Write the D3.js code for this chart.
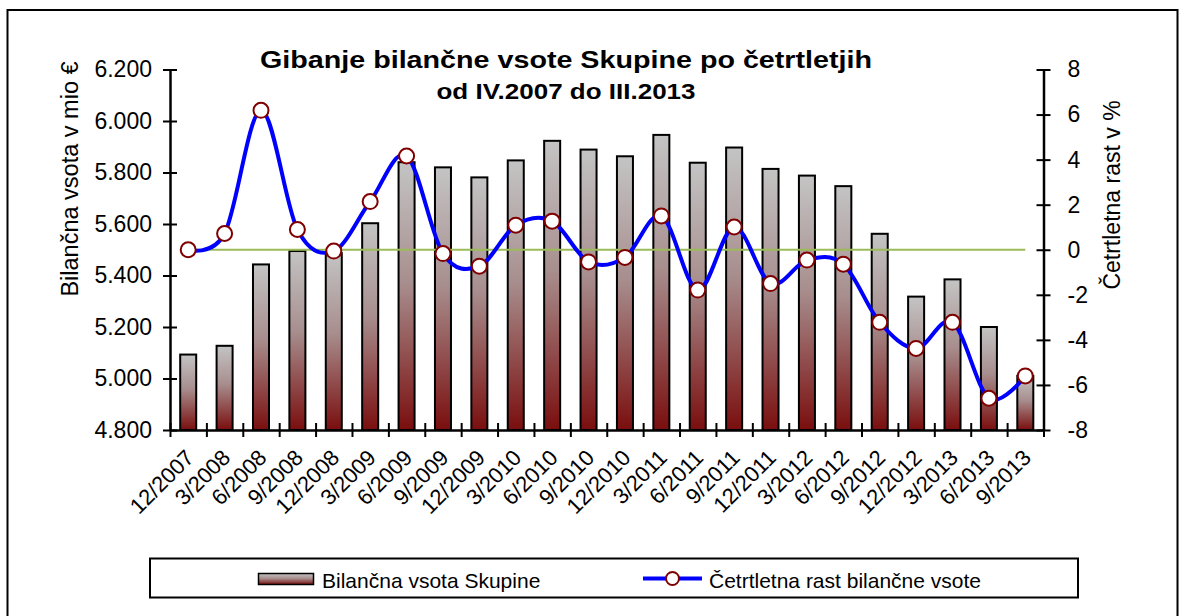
<!DOCTYPE html>
<html>
<head>
<meta charset="utf-8">
<script src="https://cdn.jsdelivr.net/npm/d3@7"></script>
<style>
  html, body { margin: 0; padding: 0; background: #fff; }
  svg { display: block; font-family: "Liberation Sans", Arial, sans-serif; }
</style>
</head>
<body>
<svg id="chart" width="1184" height="616"></svg>
<script>
// ---- data ----
const categories = ["12/2007","3/2008","6/2008","9/2008","12/2008","3/2009","6/2009","9/2009","12/2009","3/2010","6/2010","9/2010","12/2010","3/2011","6/2011","9/2011","12/2011","3/2012","6/2012","9/2012","12/2012","3/2013","6/2013","9/2013"];
const balanceSum = [5093, 5127, 5443, 5495, 5487, 5603, 5840, 5820, 5781, 5847, 5923, 5889, 5863, 5946, 5838, 5897, 5814, 5788, 5747, 5562, 5318, 5385, 5200, 5010];
const quarterlyGrowth = [0.00, 0.72, 6.19, 0.90, -0.06, 2.14, 4.16, -0.17, -0.73, 1.09, 1.27, -0.54, -0.34, 1.50, -1.79, 1.01, -1.50, -0.46, -0.64, -3.22, -4.38, -3.22, -6.59, -5.60];
const leftTicks = [4800, 5000, 5200, 5400, 5600, 5800, 6000, 6200];
const rightTicks = [-8, -6, -4, -2, 0, 2, 4, 6, 8];
const titleLines = ["Gibanje bilančne vsote Skupine po četrtletjih", "od IV.2007 do III.2013"];
const leftAxisTitle = "Bilančna vsota v mio €";
const rightAxisTitle = "Četrtletna rast v %";
const seriesNames = ["Bilančna vsota Skupine", "Četrtletna rast bilančne vsote"];

// ---- layout ----
const svg = d3.select("#chart");
const plotL = 170, plotR = 1043.5, plotT = 69.5, plotB = 430;
const fontFam = '"Liberation Sans", Arial, sans-serif';
const sl = d3.formatLocale({decimal: ",", thousands: ".", grouping: [3], currency: ["", " €"], minus: "-"});
const fmtL = sl.format(",d");
const fmtR = sl.format("d");

const x = d3.scaleBand().domain(categories).range([plotL, plotR]).padding(0);
const xIdx = d3.scaleLinear().domain([0, categories.length]).range([plotL, plotR]);
const yL = d3.scaleLinear().domain([4800, 6200]).range([plotB, plotT]);
const yR = d3.scaleLinear().domain([-8, 8]).range([plotB, plotT]);

// outer frame
svg.append("rect").attr("x", 7.5).attr("y", 10).attr("width", 1170).attr("height", 620)
  .attr("fill", "#fff").attr("stroke", "#000").attr("stroke-width", 2);

// gradient
const defs = svg.append("defs");
const grad = defs.append("linearGradient").attr("id", "barGrad")
  .attr("x1", 0).attr("y1", 0).attr("x2", 0).attr("y2", 1);
grad.append("stop").attr("offset", "0%").attr("stop-color", "#C4C4C4");
grad.append("stop").attr("offset", "45%").attr("stop-color", "#A88E8E");
grad.append("stop").attr("offset", "100%").attr("stop-color", "#7A0E0E");

// bars
const bw = x.bandwidth();
svg.append("g").selectAll("rect").data(balanceSum).join("rect")
  .attr("x", (d, i) => x(categories[i]) + bw * 0.28)
  .attr("width", bw * 0.44)
  .attr("y", d => yL(d))
  .attr("height", d => plotB - yL(d))
  .attr("fill", "url(#barGrad)")
  .attr("stroke", "#000").attr("stroke-width", 2);

// zero line (right axis)
svg.append("line")
  .attr("x1", x(categories[0]) + bw / 2).attr("x2", x(categories[categories.length - 1]) + bw / 2)
  .attr("y1", yR(0)).attr("y2", yR(0))
  .attr("stroke", "#9BBB59").attr("stroke-width", 2);

// axes
function styleAxis(g) {
  g.select(".domain").attr("stroke", "#000").attr("stroke-width", 2.5);
  g.selectAll(".tick line").attr("stroke", "#000").attr("stroke-width", 2);
}
const gL = svg.append("g").attr("transform", `translate(${plotL},0)`)
  .call(d3.axisLeft(yL).tickValues(leftTicks).tickFormat(fmtL).tickSizeInner(7).tickSizeOuter(0).tickPadding(11));
styleAxis(gL);
gL.selectAll(".tick line").attr("x1", 7);
gL.selectAll(".tick text").attr("font-size", 23).attr("font-family", fontFam).attr("fill", "#000");

const gR = svg.append("g").attr("transform", `translate(${plotR},0)`)
  .call(d3.axisRight(yR).tickValues(rightTicks).tickFormat(fmtR).tickSizeInner(7).tickSizeOuter(0).tickPadding(17));
styleAxis(gR);
gR.selectAll(".tick line").attr("x1", -7);
gR.selectAll(".tick text").attr("font-size", 23).attr("font-family", fontFam).attr("fill", "#000");

const gX = svg.append("g").attr("transform", `translate(0,${plotB})`)
  .call(d3.axisBottom(xIdx).tickValues(d3.range(0, categories.length + 1)).tickFormat("").tickSizeInner(7).tickSizeOuter(0));
styleAxis(gX);
gX.selectAll(".tick line").attr("y1", -7);

const gXL = svg.append("g").attr("transform", `translate(0,${plotB})`)
  .call(d3.axisBottom(x).tickSize(0));
gXL.select(".domain").remove();
gXL.selectAll(".tick text")
  .attr("font-size", 22).attr("font-family", fontFam).attr("fill", "#000")
  .attr("text-anchor", "end").attr("x", 0).attr("y", 0).attr("dy", 0)
  .attr("transform", "translate(7,29) rotate(-45)");

// line
const line = d3.line()
  .x((d, i) => x(categories[i]) + bw / 2)
  .y(d => yR(d))
  .curve(d3.curveCardinal.tension(0));
svg.append("path").datum(quarterlyGrowth).attr("d", line)
  .attr("fill", "none").attr("stroke", "#0000FF").attr("stroke-width", 4);
svg.append("g").selectAll("circle").data(quarterlyGrowth).join("circle")
  .attr("cx", (d, i) => x(categories[i]) + bw / 2)
  .attr("cy", d => yR(d))
  .attr("r", 7.5)
  .attr("fill", "#fff").attr("stroke", "#800000").attr("stroke-width", 2);

// title
svg.append("text").text(titleLines[0])
  .attr("x", 566).attr("y", 68).attr("text-anchor", "middle")
  .attr("font-size", 24).attr("font-weight", "bold").attr("font-family", fontFam)
  .attr("textLength", 612).attr("lengthAdjust", "spacingAndGlyphs");
svg.append("text").text(titleLines[1])
  .attr("x", 566).attr("y", 99).attr("text-anchor", "middle")
  .attr("font-size", 22).attr("font-weight", "bold").attr("font-family", fontFam)
  .attr("textLength", 259).attr("lengthAdjust", "spacingAndGlyphs");

// axis titles
svg.append("text").text(leftAxisTitle)
  .attr("transform", "translate(78,179) rotate(-90)").attr("text-anchor", "middle")
  .attr("font-size", 23.5).attr("font-family", fontFam);
svg.append("text").text(rightAxisTitle)
  .attr("transform", "translate(1120,195) rotate(-90)").attr("text-anchor", "middle")
  .attr("font-size", 23).attr("font-family", fontFam);

// legend
svg.append("rect").attr("x", 150).attr("y", 558.5).attr("width", 928).attr("height", 39)
  .attr("fill", "#fff").attr("stroke", "#000").attr("stroke-width", 2);
const lg = svg.append("g");
lg.append("rect").attr("x", 258.5).attr("y", 573.5).attr("width", 55).attr("height", 11)
  .attr("fill", "url(#barGrad)").attr("stroke", "#000").attr("stroke-width", 1.5);
lg.append("text").text(seriesNames[0]).attr("x", 322).attr("y", 588)
  .attr("font-size", 21).attr("font-family", fontFam);
lg.append("line").attr("x1", 643).attr("x2", 702).attr("y1", 578.5).attr("y2", 578.5)
  .attr("stroke", "#0000FF").attr("stroke-width", 4);
lg.append("circle").attr("cx", 672.5).attr("cy", 578.5).attr("r", 6.5)
  .attr("fill", "#fff").attr("stroke", "#800000").attr("stroke-width", 2);
lg.append("text").text(seriesNames[1]).attr("x", 709).attr("y", 588)
  .attr("font-size", 21).attr("font-family", fontFam);
</script>
</body>
</html>
